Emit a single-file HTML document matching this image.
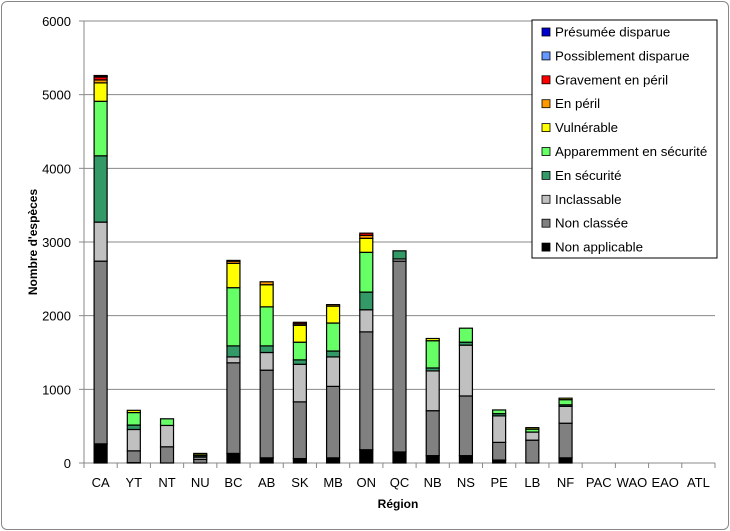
<!DOCTYPE html>
<html><head><meta charset="utf-8"><style>
body{margin:0;background:#fff;font-family:"Liberation Sans",sans-serif}
#frame{position:absolute;left:1px;top:1px;width:726px;height:527px;border:1px solid #888;border-radius:6px}
</style></head><body>
<div id="frame"></div>
<svg id="chart" width="730" height="531" style="position:absolute;left:0;top:0" font-family="Liberation Sans, sans-serif"></svg>
<script>
const categories=["CA","YT","NT","NU","BC","AB","SK","MB","ON","QC","NB","NS","PE","LB","NF","PAC","WAO","EAO","ATL"];
const seriesNames=["Non applicable","Non classée","Inclassable","En sécurité","Apparemment en sécurité","Vulnérable","En péril","Gravement en péril","Possiblement disparue","Présumée disparue"];
const naVals  =[260,5,0,0,130,70,60,70,180,150,100,100,40,0,70,0,0,0,0];
const ncVals  =[2480,160,220,50,1230,1190,770,970,1600,2590,610,810,240,310,470,0,0,0,0];
const inclVals=[530,290,290,30,80,240,510,400,300,30,540,690,360,110,230,0,0,0,0];
const esVals  =[900,60,0,20,150,90,60,80,240,110,40,40,30,0,20,0,0,0,0];
const aesVals =[740,170,90,10,790,530,240,380,540,0,370,190,50,40,70,0,0,0,0];
const vulVals =[250,30,0,20,330,300,230,230,190,0,30,0,0,20,20,0,0,0,0];
const epVals  =[40,0,0,0,30,40,20,20,40,0,0,0,0,0,0,0,0,0,0];
const gpVals  =[40,0,0,0,10,0,20,0,30,0,0,0,0,0,0,0,0,0,0];
const posdVals=[10,0,0,0,0,0,0,0,0,0,0,0,0,0,0,0,0,0,0];
const pdVals  =[10,0,0,0,0,0,0,0,0,0,0,0,0,0,0,0,0,0,0];
const yTicks=[0,1000,2000,3000,4000,5000,6000];
const series=[naVals,ncVals,inclVals,esVals,aesVals,vulVals,epVals,gpVals,posdVals,pdVals];
const colors=["#000000","#808080","#C0C0C0","#339966","#66FF66","#FFFF00","#FF9900","#FF0000","#6699FF","#0000CC"];
const NS="http://www.w3.org/2000/svg";
const svg=document.getElementById('chart');
const L=84,R=715,T=21,B=463,yMax=6000;
const y=v=>B-(v/yMax)*(B-T);
const step=(R-L)/categories.length;
const xc=i=>L+step*(i+0.5);
function mk(t,a,txt){const e=document.createElementNS(NS,t);for(const k in a)e.setAttribute(k,a[k]);if(txt!=null)e.textContent=txt;svg.appendChild(e);return e;}
yTicks.forEach(t=>{
  if(t>0){const g=mk('line',{x1:L,x2:R,y1:y(t),y2:y(t),stroke:'#888','stroke-width':1});
  
  }
  const tk=mk('line',{x1:L-5,x2:L,y1:y(t),y2:y(t),stroke:'#888'});
  
  
  const lb=mk('text',{x:L-13,y:y(t)+5,'text-anchor':'end','font-size':13,fill:'#000'},t);
  
  
});
const ax=mk('line',{x1:L,x2:L,y1:T,y2:B,stroke:'#888'});


const xa=mk('line',{x1:L,x2:R,y1:B,y2:B,stroke:'#888'});


for(let i=0;i<=categories.length;i++){
  const tk=mk('line',{x1:L+step*i,x2:L+step*i,y1:B,y2:B+5,stroke:'#888'});
  
  
}
const bw=13;
categories.forEach((c,i)=>{
  let cum=0;
  series.forEach((s,k)=>{
    const v=s[i]; if(v<=0)return;
    const r=mk('rect',{x:xc(i)-bw/2,y:y(cum+v),width:bw,height:y(cum)-y(cum+v),fill:colors[k],stroke:'#000','stroke-width':1.2});
    
    
    cum+=v;
  });
  const lb=mk('text',{x:xc(i),y:487,'text-anchor':'middle','font-size':13,fill:'#000'},c);
  
  
});
const xt=mk('text',{x:398,y:508,'text-anchor':'middle','font-size':12,'font-weight':'bold'},'Région');


const yt=mk('text',{x:0,y:0,'text-anchor':'middle','font-size':12,'font-weight':'bold',transform:'translate(37,242) rotate(-90)'},"Nombre d'espèces");


const lg=mk('rect',{x:532,y:20,width:185,height:238,fill:'#fff',stroke:'#000','stroke-width':1});


for(let j=0;j<10;j++){
  const k=9-j, yy=32+j*23.9;
  const sw=mk('rect',{x:542,y:yy-4,width:8,height:8,fill:colors[k],stroke:'#000','stroke-width':0.8});
  
  
  const t=mk('text',{x:555,y:yy+4.5,'font-size':13.3,fill:'#000'},seriesNames[k]);
  
  
}
</script>
</body></html>
